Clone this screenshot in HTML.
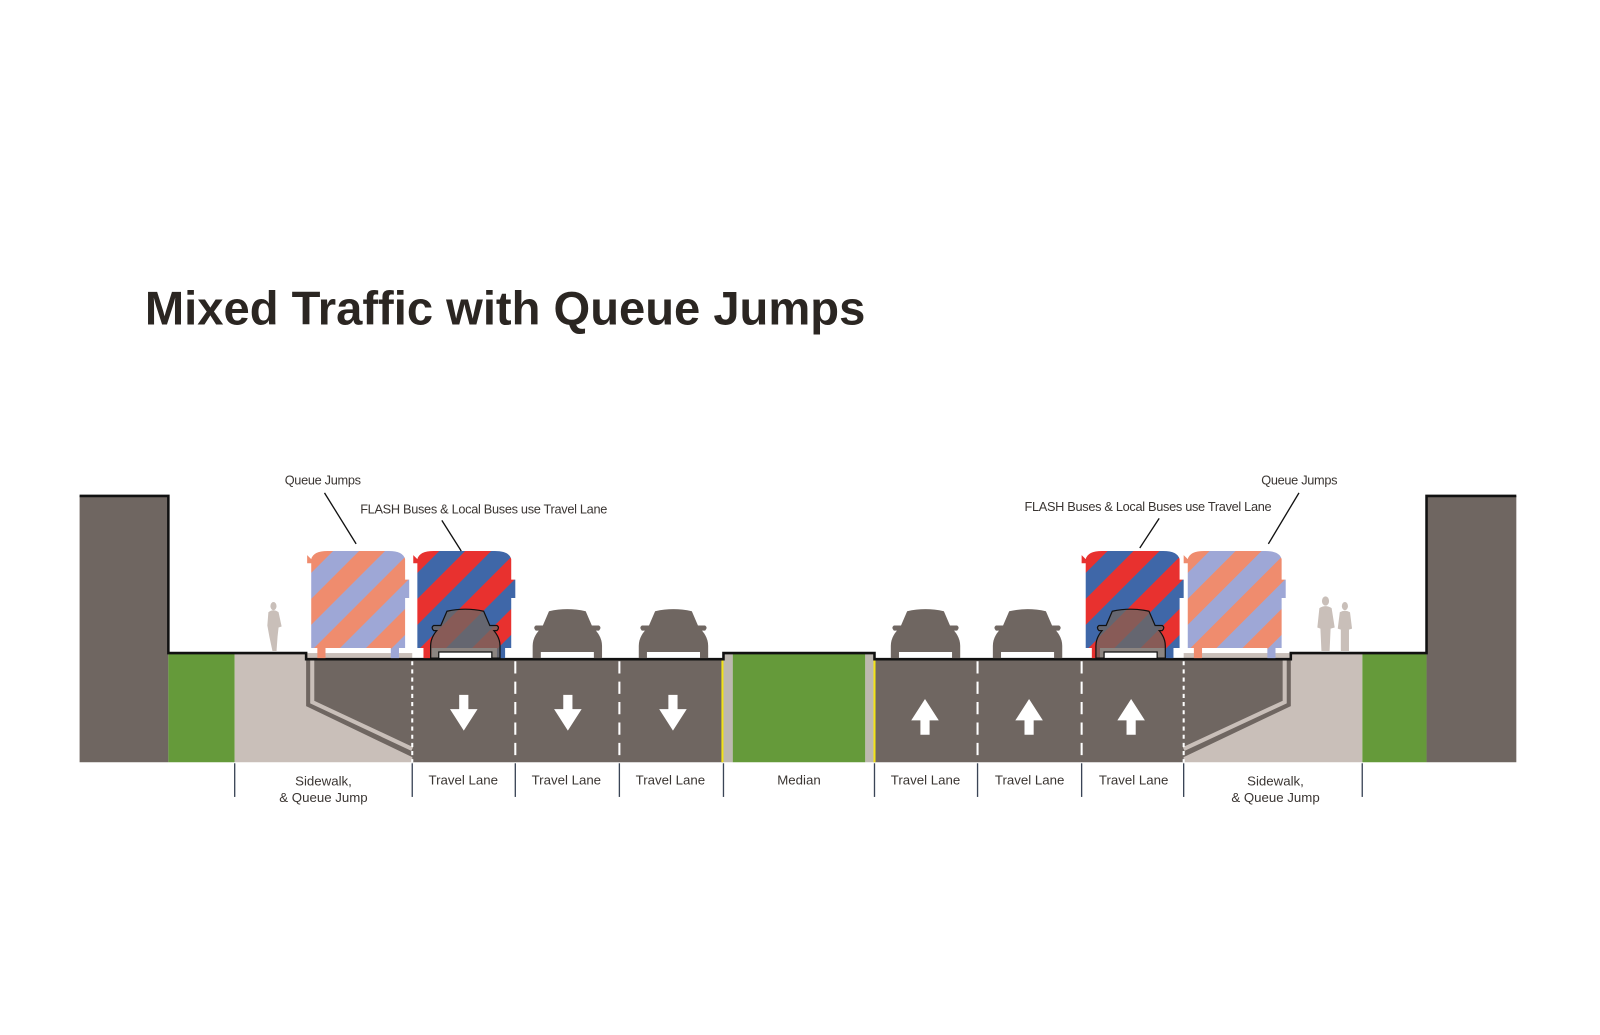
<!DOCTYPE html>
<html><head><meta charset="utf-8"><style>
html,body{margin:0;padding:0;background:#fff;}
svg{display:block;}
text{font-family:"Liberation Sans",sans-serif;fill:#3a3532;}
</style></head><body>
<svg width="1600" height="1035" viewBox="0 0 1568 1014.3" preserveAspectRatio="none" xmlns="http://www.w3.org/2000/svg">
<defs>
<pattern id="pRB" patternUnits="userSpaceOnUse" width="36" height="36" patternTransform="rotate(45)">
<rect width="18" height="36" fill="#e8312f"/><rect x="18" width="18" height="36" fill="#3f67a8"/></pattern>
<pattern id="pPa" patternUnits="userSpaceOnUse" width="36" height="36" patternTransform="rotate(45)">
<rect width="18" height="36" fill="#ef8c6e"/><rect x="18" width="18" height="36" fill="#9ea7d6"/></pattern>
<g id="car">
<path d="M16 2 Q34 -2 52 2 L58 16 L65 16 Q68 18 65 21 L62 21 Q68 28 68 36 L68 48 L60 48 L60 42 L8 42 L8 48 L0 48 L0 36 Q0 28 6 21 L3 21 Q0 18 3 16 L10 16 Z"/>
</g>
<g id="busL"><path d="M4 8 Q6 0 20 0 L80 0 Q94 0 96 8 L96 28 L100 28 L100 46 L96 46 L96 95 L90 95 L90 105 L82 105 L82 95 L18 95 L18 105 L10 105 L10 95 L4 95 L4 12 L0 12 L0 4 Z"/></g>
</defs>
<text x="142" y="318" font-size="46" font-weight="bold" textLength="706" lengthAdjust="spacingAndGlyphs" style="fill:#2b2622">Mixed Traffic with Queue Jumps</text>

<rect x="78" y="486" width="87" height="261" fill="#6f6661"/>
<rect x="1398" y="486" width="88" height="261" fill="#6f6661"/>
<rect x="165" y="640" width="65" height="107" fill="#659a3a"/>
<rect x="1335" y="640" width="63" height="107" fill="#659a3a"/>
<rect x="718" y="640" width="130" height="107" fill="#659a3a"/>
<rect x="230" y="640" width="174" height="107" fill="#c9bfb9"/>
<rect x="1160" y="640" width="175" height="107" fill="#c9bfb9"/>
<rect x="709" y="640" width="9" height="107" fill="#bdb8b0"/>
<rect x="848" y="640" width="9" height="107" fill="#bdb8b0"/>
<path d="M300 646 L709 646 L709 747 L404 747 L404 742 L300 692 Z" fill="#6f6661"/>
<path d="M857 646 L1265 646 L1265 692 L1160 742 L1160 747 L857 747 Z" fill="#6f6661"/>
<path d="M306 646 L306 688 L404 734" fill="none" stroke="#c9bfb9" stroke-width="4"/>
<path d="M1259 646 L1259 688 L1160 734" fill="none" stroke="#c9bfb9" stroke-width="4"/>
<line x1="708" y1="646" x2="708" y2="747" stroke="#f2e31a" stroke-width="2"/>
<line x1="857" y1="646" x2="857" y2="747" stroke="#f2e31a" stroke-width="2"/>
<g stroke="#fff" stroke-width="2">
<line x1="404" y1="648" x2="404" y2="747" stroke-dasharray="4 4"/>
<line x1="1160" y1="648" x2="1160" y2="747" stroke-dasharray="4 4"/>
<line x1="505" y1="648" x2="505" y2="747" stroke-dasharray="12 8"/>
<line x1="607" y1="648" x2="607" y2="747" stroke-dasharray="12 8"/>
<line x1="958" y1="648" x2="958" y2="747" stroke-dasharray="12 8"/>
<line x1="1060" y1="648" x2="1060" y2="747" stroke-dasharray="12 8"/>
</g>
<path d="M78 486 L165 486 L165 640 L300 640 L300 646 L709 646 L709 640 L857 640 L857 646 L1265 646 L1265 640 L1398 640 L1398 486 L1486 486" fill="none" stroke="#111" stroke-width="2.5"/>
<g fill="#fff">
<path d="M450 681 h9 v14 h9 l-13.5 21 l-13.5 -21 h9 z"/>
<path d="M552 681 h9 v14 h9 l-13.5 21 l-13.5 -21 h9 z"/>
<path d="M655 681 h9 v14 h9 l-13.5 21 l-13.5 -21 h9 z"/>
<path d="M902 720 h9 v-14 h9 l-13.5 -21 l-13.5 21 h9 z"/>
<path d="M1004 720 h9 v-14 h9 l-13.5 -21 l-13.5 21 h9 z"/>
<path d="M1104 720 h9 v-14 h9 l-13.5 -21 l-13.5 21 h9 z"/>
</g>
<use href="#busL" x="301" y="540" fill="url(#pPa)"/>
<use href="#busL" x="405" y="540" fill="url(#pRB)"/>
<use href="#busL" x="1060" y="540" fill="url(#pRB)"/>
<use href="#busL" x="1160" y="540" fill="url(#pPa)"/>
<g fill="#6f6661">
<use href="#car" x="522" y="597"/>
<use href="#car" x="626" y="597"/>
<use href="#car" x="873" y="597"/>
<use href="#car" x="973" y="597"/>
</g>
<g fill="#6f6661" fill-opacity="0.8" stroke="#111" stroke-width="1.2">
<use href="#car" x="422" y="597"/>
<use href="#car" x="1074" y="597"/>
</g>
<g fill="#c9bfb9">
<ellipse cx="268" cy="594" rx="3" ry="4"/><path d="M263 600 Q268 596 273 600 L276 614 L273 615 L272 624 L271 638 L267 638 L264 624 L262 613 Z"/>
<ellipse cx="1299" cy="589" rx="3.5" ry="4.5"/><path d="M1293 596 Q1299 592 1305 596 L1308 615 L1304 616 L1303 638 L1295 638 L1294 616 L1291 615 Z"/>
<ellipse cx="1318" cy="594" rx="3" ry="4"/><path d="M1313 600 Q1318 597 1323 600 L1325 616 L1322 617 L1322 638 L1314 638 L1314 617 L1311 616 Z"/>
</g>
<g stroke="#111" stroke-width="1.3">
<line x1="318" y1="483" x2="349" y2="533"/>
<line x1="433" y1="510" x2="452" y2="540"/>
<line x1="1273" y1="483" x2="1243" y2="533"/>
<line x1="1136" y1="508" x2="1117" y2="537"/>
</g>
<g font-size="12.5" style="letter-spacing:-0.3px">
<text x="279" y="475">Queue Jumps</text>
<text x="353" y="503">FLASH Buses &amp; Local Buses use Travel Lane</text>
<text x="1236" y="475">Queue Jumps</text>
<text x="1004" y="501">FLASH Buses &amp; Local Buses use Travel Lane</text>
</g>
<g stroke="#3a4456" stroke-width="1.3">
<line x1="230" y1="748" x2="230" y2="781"/><line x1="404" y1="748" x2="404" y2="781"/>
<line x1="505" y1="748" x2="505" y2="781"/><line x1="607" y1="748" x2="607" y2="781"/>
<line x1="709" y1="748" x2="709" y2="781"/><line x1="857" y1="748" x2="857" y2="781"/>
<line x1="958" y1="748" x2="958" y2="781"/><line x1="1060" y1="748" x2="1060" y2="781"/>
<line x1="1160" y1="748" x2="1160" y2="781"/><line x1="1335" y1="748" x2="1335" y2="781"/>
</g>
<g font-size="13" text-anchor="middle">
<text x="317" y="770">Sidewalk,</text><text x="317" y="786">&amp; Queue Jump</text>
<text x="454" y="769">Travel Lane</text><text x="555" y="769">Travel Lane</text>
<text x="657" y="769">Travel Lane</text><text x="783" y="769">Median</text>
<text x="907" y="769">Travel Lane</text><text x="1009" y="769">Travel Lane</text>
<text x="1111" y="769">Travel Lane</text>
<text x="1250" y="770">Sidewalk,</text><text x="1250" y="786">&amp; Queue Jump</text>
</g>
</svg>
</body></html>
